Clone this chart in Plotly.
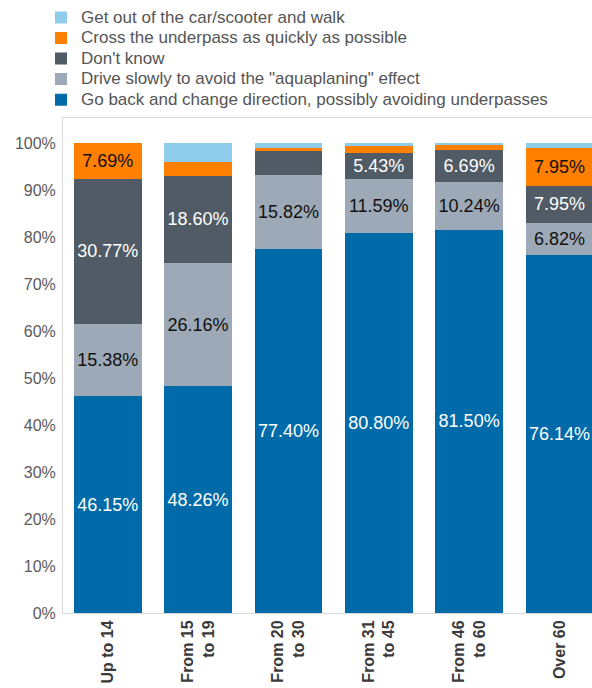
import plotly.graph_objects as go

categories = ["Up to 14", "From 15<br>to 19", "From 20<br>to 30", "From 31<br>to 45", "From 46<br>to 60", "Over 60"]

series_names = [
    "Go back and change direction, possibly avoiding underpasses",
    "Drive slowly to avoid the \"aquaplaning\" effect",
    "Don't know",
    "Cross the underpass as quickly as possible",
    "Get out of the car/scooter and walk",
]

go_back = [46.15, 48.26, 77.40, 80.80, 81.50, 76.14]
drive_slowly = [15.38, 26.16, 15.82, 11.59, 10.24, 6.82]
dont_know = [30.77, 18.60, 5.08, 5.43, 6.69, 7.95]
cross_quickly = [7.69, 2.91, 0.56, 1.45, 1.18, 7.95]
get_out = [0.00, 4.07, 1.13, 0.72, 0.39, 1.14]

series_values = [go_back, drive_slowly, dont_know, cross_quickly, get_out]
colors = ["#006BA8", "#9DA9B6", "#505B66", "#FF7F00", "#8FCBEA"]
text_colors = ["#FFFFFF", "#111111", "#FFFFFF", "#111111", "#111111"]

y_ticks = [0, 10, 20, 30, 40, 50, 60, 70, 80, 90, 100]
y_tick_labels = [f"{v}%" for v in y_ticks]

LABEL_MIN = 5.3
FONT = "Arial, Liberation Sans, Helvetica, sans-serif"

fig = go.Figure()
for name, vals, col, tcol in zip(series_names, series_values, colors, text_colors):
    fig.add_trace(go.Bar(
        x=list(range(len(categories))),
        y=vals,
        name=f'<span style="font-size:17px">{name}</span>',
        marker=dict(color=col, line=dict(width=0)),
        text=[f"{v:.2f}%" if v >= LABEL_MIN else "" for v in vals],
        textposition="inside",
        insidetextanchor="middle",
        textangle=0,
        constraintext="none",
        textfont=dict(family=FONT, size=18, color=tcol),
        hovertemplate="%{y:.2f}%<extra></extra>",
    ))

fig.update_layout(
    width=592,
    height=688,
    barmode="stack",
    bargap=0.25,
    plot_bgcolor="white",
    paper_bgcolor="white",
    font=dict(family=FONT, color="#555555"),
    margin=dict(l=63, r=0, t=118, b=75, pad=0, autoexpand=False),
    showlegend=True,
    legend=dict(
        traceorder="reversed",
        orientation="v",
        x=-0.0416, xanchor="left",
        y=1.234, yanchor="top",
        font=dict(family=FONT, size=13.5, color="#555555"),
        bgcolor="rgba(0,0,0,0)",
        borderwidth=0,
    ),
    xaxis=dict(
        tickmode="array",
        tickvals=list(range(len(categories))),
        ticktext=[f"<b>{c}</b>" for c in categories],
        tickangle=-90,
        tickfont=dict(family=FONT, size=16, color="#3A3A3A"),
        range=[-0.495, 5.36],
        showline=True, linecolor="#D9D9D9", linewidth=1, mirror=True,
        showgrid=False, zeroline=False, ticks="",
        automargin=False,
    ),
    yaxis=dict(
        tickmode="array",
        tickvals=y_ticks,
        ticktext=y_tick_labels,
        range=[0, 105.3],
        tickfont=dict(family=FONT, size=16, color="#5A5A5A"),
        showline=True, linecolor="#D9D9D9", linewidth=1,
        showgrid=False, zeroline=False, ticks="",
        ticklabelstandoff=3,
        automargin=False,
    ),
)

fig.write_html(
    "out.html",
    config={"displayModeBar": False},
    post_script="document.body.style.margin='0';document.body.style.padding='0';",
)
